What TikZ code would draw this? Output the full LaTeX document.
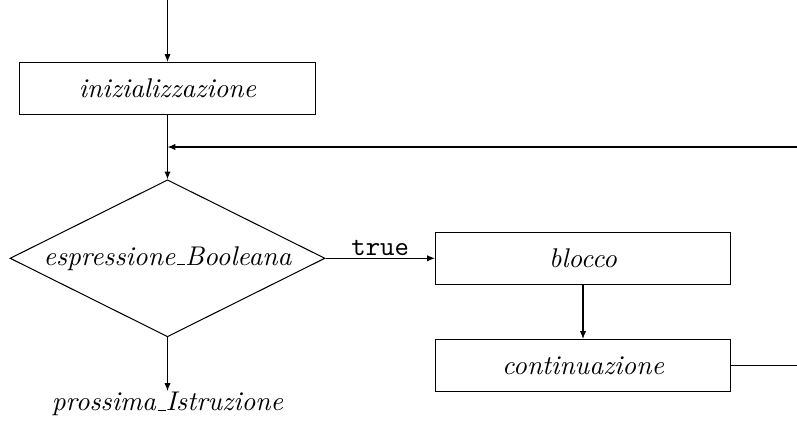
\documentclass[tikz,border=0pt]{standalone}
\usetikzlibrary{shapes.geometric,arrows.meta}
\newcommand\usc{\leavevmode\kern.06em\vbox{\hrule width.3em}}
\begin{document}
\begin{tikzpicture}[x=0.386pt,y=-0.386pt,
  txt/.style={font=\fontsize{10.45pt}{12.5pt}\selectfont\itshape},
  procbox/.style={draw,rectangle,minimum width=113.9pt,minimum height=20.1pt,inner sep=0pt,txt},
  decbox/.style={draw,diamond,shape aspect=2.0066,minimum width=121.6pt,minimum height=60.6pt,inner sep=0pt,txt},
  arr/.style={-{Latex[length=3pt,width=2.4pt]}}]
\useasboundingbox (0,0) rectangle (797,422);
\coordinate (start) at (167.5,0);
\node[procbox] (init) at (167.5,88.5) {inizializzazione};
\node[decbox] (cond) at (167.5,258.3) {espressione\usc Booleana};
\node[procbox] (body) at (583,258.3) {blocco};
\node[procbox] (cont) at (583,365.5) {continuazione};
\node[txt,inner sep=0pt] (next) at (167.5,404) {prossima\usc Istruzione};
\coordinate (fbin) at (797,147);
\coordinate (fbout) at (797,365.5);
\coordinate (nextend) at (167.5,391);
\draw[arr] (start) -- (init.north);
\draw[arr] (init.south) -- (cond.north);
\draw[arr] (fbin) -- (fbin -| init.south);
\draw[arr] (cond.east) -- node[above=1pt,font=\fontsize{10.6pt}{12.5pt}\selectfont\ttfamily,inner sep=0pt] (lbl) {true} (body.west);
\draw[arr] (body.south) -- (cont.north);
\draw (cont.east) -- (fbout);
\draw[arr] (cond.south) -- (nextend);
\end{tikzpicture}
\end{document}
